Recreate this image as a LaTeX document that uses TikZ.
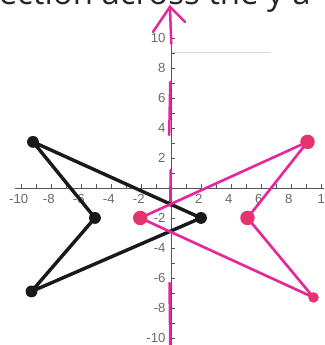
\documentclass[tikz,border=0pt]{standalone}
\usepackage{fontspec}
\setmainfont{Open Sans}
\newfontfamily\labfont{Liberation Sans}
\definecolor{pinkline}{HTML}{E6279B}
\definecolor{pinkdot}{HTML}{E6336F}
\definecolor{axisgray}{HTML}{555555}
\definecolor{labgray}{HTML}{6A6A6A}
\begin{document}
\begin{tikzpicture}[x=0.4cm,y=0.4cm,
  axisline/.style={draw=axisgray, line width=0.6pt},
  tickmark/.style={draw=axisgray, line width=0.5pt},
  ticklab/.style={font=\labfont\fontsize{10}{10}\selectfont, text=labgray, inner sep=0pt},
  blackedge/.style={draw=black!90, line width=2.6pt, line join=round, line cap=round},
  pinkedge/.style={draw=pinkline, line width=2pt, line join=round, line cap=round},
  blackdot/.style={circle, fill=black!90, inner sep=0pt, minimum size=9pt},
  pinkdotstyle/.style={circle, fill=pinkdot, inner sep=0pt, minimum size=11pt},
  overlay/.style={draw=pinkline, line width=1.9pt, line cap=round}]
\useasboundingbox (-11.4,-10.47) rectangle (10.2,12.53);
\clip (-11.4,-10.47) rectangle (10.2,12.53);
% title text (cut at top)
\node[anchor=base west, inner sep=0pt, font=\fontsize{25}{25}\selectfont, text=black!85] (title) at (-11.5,12.2) {ection across the y a};
% faint line
\draw[black!15, line width=0.4pt] (0,9.07) -- (6.6,9.07);
% axes
\draw[axisline] (-10.4,0) -- (10.5,0);
\draw[axisline] (0,-10.5) -- (0,10.25);
\foreach \i in {-10,...,10} {
  \draw[tickmark] (\i,0) -- (\i,0.28);
  \draw[tickmark] (0,\i) -- (0.28,\i);
}
\foreach \i in {-10,-8,-6,-4,-2,2,4,6,8} {
  \node[ticklab, anchor=north] (xl\i) at (\i-0.15,-0.4) {\i};
}
\node[ticklab, anchor=north west] (xl10) at (9.75,-0.4) {10};
\foreach \i in {-10,-8,-6,-4,-2,2,4,6,8,10} {
  \node[ticklab, anchor=east] (yl\i) at (-0.35,\i) {\i};
}
% magenta overlay on the y-axis with arrow
\coordinate (tip) at (-0.07,12.07);
\coordinate (armL) at (-1.2,10.4);
\coordinate (armR) at (0.93,11.07);
\coordinate (s1) at (0.02,9.6);
\draw[overlay] (armL) -- (tip) -- (armR);
\draw[overlay] (tip) -- (s1);
\coordinate (s2a) at (-0.05,7.07);
\coordinate (s2b) at (-0.12,3.53);
\draw[overlay] (s2a) -- (s2b);
\coordinate (s3a) at (-0.02,1.2);
\coordinate (s3b) at (-0.05,-1.2);
\draw[overlay] (s3a) -- (s3b);
\coordinate (s4a) at (-0.1,-6.33);
\coordinate (s4b) at (-0.05,-10.5);
\draw[overlay] (s4a) -- (s4b);
% black figure
\node[blackdot] (A) at (-9.2,3.07) {};
\node[blackdot] (B) at (2,-2) {};
\node[blackdot] (C) at (-9.3,-6.9) {};
\node[blackdot] (D) at (-5.07,-2) {};
\draw[blackedge] (A.center) -- (B.center) -- (C.center) -- (D.center) -- cycle;
% pink figure
\coordinate (Pa) at (9.1,3.07);
\coordinate (Pb) at (-2.05,-2);
\coordinate (Pc) at (9.5,-7.3);
\coordinate (Pd) at (5.1,-2);
\draw[pinkedge] (Pa) -- (Pb) -- (Pc) -- (Pd) -- cycle;
\node[pinkdotstyle] (PA) at (Pa) {};
\node[pinkdotstyle] (PB) at (Pb) {};
\node[pinkdotstyle, minimum size=8pt] (PC) at (Pc) {};
\node[pinkdotstyle] (PD) at (Pd) {};
\end{tikzpicture}
\end{document}
